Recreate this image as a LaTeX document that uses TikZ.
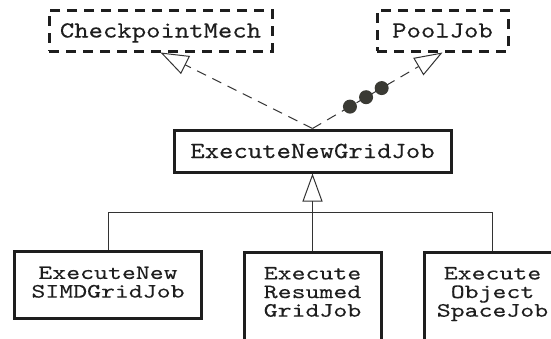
\documentclass[tikz,border=0pt]{standalone}
\usepackage{fontspec}
\usetikzlibrary{arrows.meta}
% Typewriter faces for the class names, widened a little
\newfontfamily\umlfont{lmmono10-regular.otf}[FakeStretch=1.19, FakeBold=0.2]
\newfontfamily\subfont{lmmono10-regular.otf}[FakeStretch=1.3, FakeBold=0.2]
\definecolor{boxcol}{HTML}{1E1E1E}
\definecolor{linecol}{HTML}{333333}
\definecolor{dotcol}{HTML}{3A3A34}
\begin{document}
\begin{tikzpicture}[x=0.5pt, y=-0.5pt,
  iface/.style={draw=boxcol, line width=1.5pt, dash pattern=on 5pt off 3.5pt,
    inner sep=0pt, minimum height=20.5pt, text height=7pt, text depth=0pt,
    text=boxcol, font=\umlfont\fontsize{11.5}{12}\selectfont},
  cls/.style={draw=boxcol, line width=1.5pt, inner sep=0pt, minimum height=21pt,
    text height=7pt, text depth=0pt, text=boxcol,
    font=\umlfont\fontsize{11.5}{12}\selectfont},
  sub/.style={draw=boxcol, line width=1.5pt, anchor=north, inner xsep=0pt,
    inner ysep=7.5pt, text=boxcol, font=\subfont\fontsize{10.2}{9.3}\selectfont},
  conn/.style={draw=linecol, line width=0.5pt},
  realize/.style={conn, dash pattern=on 5pt off 3.5pt,
    -{Triangle[open, length=14pt, width=10pt, line width=0.5pt]}},
  inherit/.style={conn, -{Triangle[open, length=14pt, width=10pt, line width=0.5pt]}},
  dot/.style={circle, fill=dotcol, inner sep=0pt, minimum size=7pt}
]
\path[use as bounding box] (0,0) rectangle (551,338);
\clip (0,0) rectangle (551,338);

% interfaces
\node[iface, minimum width=111.5pt] (cp) at (160.5,30.5) {CheckpointMech};
\node[iface, minimum width=65.5pt] (pool) at (442.5,30.5) {PoolJob};

% main class
\node[cls, minimum width=138.5pt] (engj) at (312.5,151) {ExecuteNewGridJob};

% subclasses
\node[sub] (simd) at (108,250)
  {\parbox[c][18.5pt][t]{93.5pt}{\centering ExecuteNew\\SIMDGridJob}};
\node[sub] (resumed) at (312.5,250.5)
  {\parbox[c][60pt][t]{68.5pt}{\centering Execute\\Resumed\\GridJob}};
\node[sub] (objspace) at (492.5,250.5)
  {\parbox[c][60pt][t]{68.5pt}{\centering Execute\\Object\\SpaceJob}};

% realizations
\draw[realize] (engj.north) -- (cp.south);
\draw[realize] (engj.north) -- (pool.south);
\path (engj.north) -- (pool.south)
  node[dot, pos=0.288] (d1) {}
  node[dot, pos=0.412] (d2) {}
  node[dot, pos=0.532] (d3) {};

% generalization
\draw[conn] (simd.north) -- ++(0,-38) coordinate (busL) -| (objspace.north);
\draw[inherit] (resumed.north) -- (engj.south);
\end{tikzpicture}
\end{document}
